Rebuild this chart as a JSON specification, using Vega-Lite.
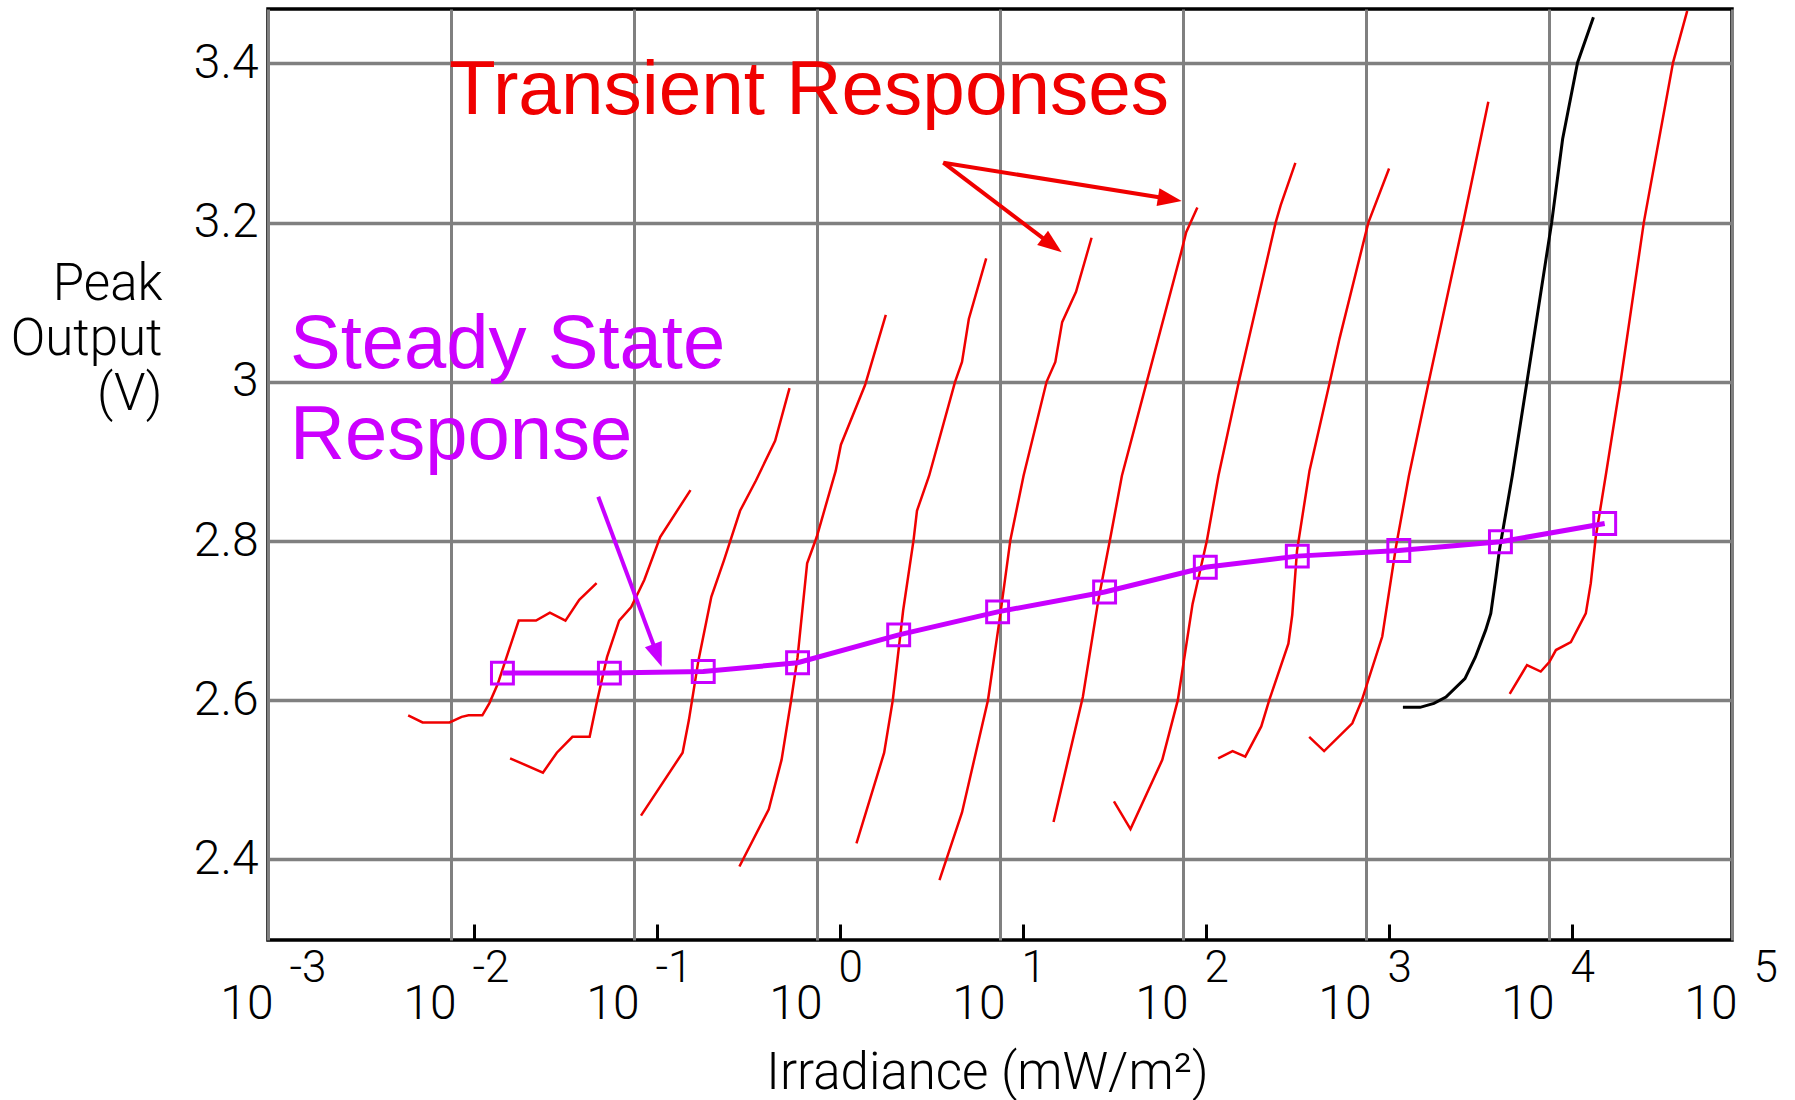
{
  "$schema": "https://vega.github.io/schema/vega-lite/v6.json",
  "width": 1464,
  "height": 931,
  "autosize": {"type": "none"},
  "padding": {"left": 268, "top": 9, "right": 63, "bottom": 160},
  "background": "#ffffff",
  "config": {"view": {"stroke": "#000000", "strokeWidth": 3.5}},
  "datasets": {
    "transient": [
      {"curve": 1, "step": 1, "irradiance": 0.005834, "peak_output": 2.581},
      {"curve": 1, "step": 2, "irradiance": 0.006992, "peak_output": 2.572},
      {"curve": 1, "step": 3, "irradiance": 0.009822, "peak_output": 2.572},
      {"curve": 1, "step": 4, "irradiance": 0.01143, "peak_output": 2.579},
      {"curve": 1, "step": 5, "irradiance": 0.01247, "peak_output": 2.581},
      {"curve": 1, "step": 6, "irradiance": 0.01484, "peak_output": 2.581},
      {"curve": 1, "step": 7, "irradiance": 0.01619, "peak_output": 2.596},
      {"curve": 1, "step": 8, "irradiance": 0.01805, "peak_output": 2.621},
      {"curve": 1, "step": 9, "irradiance": 0.02012, "peak_output": 2.654},
      {"curve": 1, "step": 10, "irradiance": 0.02344, "peak_output": 2.7},
      {"curve": 1, "step": 11, "irradiance": 0.02915, "peak_output": 2.7},
      {"curve": 1, "step": 12, "irradiance": 0.0347, "peak_output": 2.71},
      {"curve": 1, "step": 13, "irradiance": 0.04221, "peak_output": 2.7},
      {"curve": 1, "step": 14, "irradiance": 0.05022, "peak_output": 2.726},
      {"curve": 1, "step": 15, "irradiance": 0.06246, "peak_output": 2.747},
      {"curve": 2, "step": 1, "irradiance": 0.02103, "peak_output": 2.527},
      {"curve": 2, "step": 2, "irradiance": 0.03179, "peak_output": 2.509},
      {"curve": 2, "step": 3, "irradiance": 0.03787, "peak_output": 2.534},
      {"curve": 2, "step": 4, "irradiance": 0.04608, "peak_output": 2.554},
      {"curve": 2, "step": 5, "irradiance": 0.05723, "peak_output": 2.554},
      {"curve": 2, "step": 6, "irradiance": 0.06246, "peak_output": 2.596},
      {"curve": 2, "step": 7, "irradiance": 0.0712, "peak_output": 2.654},
      {"curve": 2, "step": 8, "irradiance": 0.08295, "peak_output": 2.7},
      {"curve": 2, "step": 9, "irradiance": 0.09654, "peak_output": 2.717},
      {"curve": 2, "step": 10, "irradiance": 0.1138, "peak_output": 2.751},
      {"curve": 2, "step": 11, "irradiance": 0.139, "peak_output": 2.805},
      {"curve": 2, "step": 12, "irradiance": 0.2036, "peak_output": 2.864},
      {"curve": 3, "step": 1, "irradiance": 0.1092, "peak_output": 2.455},
      {"curve": 3, "step": 2, "irradiance": 0.1843, "peak_output": 2.534},
      {"curve": 3, "step": 3, "irradiance": 0.1995, "peak_output": 2.575},
      {"curve": 3, "step": 4, "irradiance": 0.225, "peak_output": 2.65},
      {"curve": 3, "step": 5, "irradiance": 0.2646, "peak_output": 2.73},
      {"curve": 3, "step": 6, "irradiance": 0.3105, "peak_output": 2.776},
      {"curve": 3, "step": 7, "irradiance": 0.3799, "peak_output": 2.838},
      {"curve": 3, "step": 8, "irradiance": 0.464, "peak_output": 2.876},
      {"curve": 3, "step": 9, "irradiance": 0.5904, "peak_output": 2.926},
      {"curve": 3, "step": 10, "irradiance": 0.7076, "peak_output": 2.992},
      {"curve": 4, "step": 1, "irradiance": 0.3767, "peak_output": 2.391},
      {"curve": 4, "step": 2, "irradiance": 0.5451, "peak_output": 2.463},
      {"curve": 4, "step": 3, "irradiance": 0.6402, "peak_output": 2.525},
      {"curve": 4, "step": 4, "irradiance": 0.7222, "peak_output": 2.6},
      {"curve": 4, "step": 5, "irradiance": 0.7831, "peak_output": 2.654},
      {"curve": 4, "step": 6, "irradiance": 0.8833, "peak_output": 2.772},
      {"curve": 4, "step": 7, "irradiance": 0.9963, "peak_output": 2.805},
      {"curve": 4, "step": 8, "irradiance": 1.265, "peak_output": 2.888},
      {"curve": 4, "step": 9, "irradiance": 1.351, "peak_output": 2.921},
      {"curve": 4, "step": 10, "irradiance": 1.831, "peak_output": 2.996},
      {"curve": 4, "step": 11, "irradiance": 2.377, "peak_output": 3.084},
      {"curve": 5, "step": 1, "irradiance": 1.643, "peak_output": 2.42},
      {"curve": 5, "step": 2, "irradiance": 2.328, "peak_output": 2.534},
      {"curve": 5, "step": 3, "irradiance": 2.595, "peak_output": 2.6},
      {"curve": 5, "step": 4, "irradiance": 2.957, "peak_output": 2.713},
      {"curve": 5, "step": 5, "irradiance": 3.37, "peak_output": 2.801},
      {"curve": 5, "step": 6, "irradiance": 3.518, "peak_output": 2.838},
      {"curve": 5, "step": 7, "irradiance": 4.1, "peak_output": 2.882},
      {"curve": 5, "step": 8, "irradiance": 5.681, "peak_output": 3.0},
      {"curve": 5, "step": 9, "irradiance": 6.201, "peak_output": 3.025},
      {"curve": 5, "step": 10, "irradiance": 6.755, "peak_output": 3.079},
      {"curve": 5, "step": 11, "irradiance": 8.406, "peak_output": 3.155},
      {"curve": 6, "step": 1, "irradiance": 4.67, "peak_output": 2.374},
      {"curve": 6, "step": 2, "irradiance": 6.201, "peak_output": 2.459},
      {"curve": 6, "step": 3, "irradiance": 8.594, "peak_output": 2.6},
      {"curve": 6, "step": 4, "irradiance": 10.0, "peak_output": 2.705},
      {"curve": 6, "step": 5, "irradiance": 11.39, "peak_output": 2.801},
      {"curve": 6, "step": 6, "irradiance": 13.45, "peak_output": 2.882},
      {"curve": 6, "step": 7, "irradiance": 17.97, "peak_output": 3.0},
      {"curve": 6, "step": 8, "irradiance": 20.06, "peak_output": 3.025},
      {"curve": 6, "step": 9, "irradiance": 21.86, "peak_output": 3.075},
      {"curve": 6, "step": 10, "irradiance": 26.03, "peak_output": 3.113},
      {"curve": 6, "step": 11, "irradiance": 31.65, "peak_output": 3.181},
      {"curve": 7, "step": 1, "irradiance": 19.61, "peak_output": 2.447},
      {"curve": 7, "step": 2, "irradiance": 28.36, "peak_output": 2.604},
      {"curve": 7, "step": 3, "irradiance": 34.48, "peak_output": 2.726},
      {"curve": 7, "step": 4, "irradiance": 40.17, "peak_output": 2.805},
      {"curve": 7, "step": 5, "irradiance": 46.36, "peak_output": 2.882},
      {"curve": 7, "step": 6, "irradiance": 63.39, "peak_output": 3.0},
      {"curve": 7, "step": 7, "irradiance": 97.81, "peak_output": 3.163},
      {"curve": 7, "step": 8, "irradiance": 104.1, "peak_output": 3.188},
      {"curve": 7, "step": 9, "irradiance": 119.8, "peak_output": 3.219},
      {"curve": 8, "step": 1, "irradiance": 41.94, "peak_output": 2.473},
      {"curve": 8, "step": 2, "irradiance": 51.65, "peak_output": 2.438},
      {"curve": 8, "step": 3, "irradiance": 77.05, "peak_output": 2.525},
      {"curve": 8, "step": 4, "irradiance": 93.7, "peak_output": 2.6},
      {"curve": 8, "step": 5, "irradiance": 112.8, "peak_output": 2.721},
      {"curve": 8, "step": 6, "irradiance": 135.2, "peak_output": 2.801},
      {"curve": 8, "step": 7, "irradiance": 156.2, "peak_output": 2.882},
      {"curve": 8, "step": 8, "irradiance": 201.9, "peak_output": 3.0},
      {"curve": 8, "step": 9, "irradiance": 320.8, "peak_output": 3.2},
      {"curve": 8, "step": 10, "irradiance": 342.0, "peak_output": 3.222},
      {"curve": 8, "step": 11, "irradiance": 411.3, "peak_output": 3.275},
      {"curve": 9, "step": 1, "irradiance": 155.6, "peak_output": 2.527},
      {"curve": 9, "step": 2, "irradiance": 186.6, "peak_output": 2.536},
      {"curve": 9, "step": 3, "irradiance": 218.9, "peak_output": 2.529},
      {"curve": 9, "step": 4, "irradiance": 267.7, "peak_output": 2.567},
      {"curve": 9, "step": 5, "irradiance": 296.0, "peak_output": 2.6},
      {"curve": 9, "step": 6, "irradiance": 376.6, "peak_output": 2.671},
      {"curve": 9, "step": 7, "irradiance": 395.3, "peak_output": 2.707},
      {"curve": 9, "step": 8, "irradiance": 419.8, "peak_output": 2.788},
      {"curve": 9, "step": 9, "irradiance": 491.0, "peak_output": 2.888},
      {"curve": 9, "step": 10, "irradiance": 634.7, "peak_output": 3.0},
      {"curve": 9, "step": 11, "irradiance": 716.1, "peak_output": 3.054},
      {"curve": 9, "step": 12, "irradiance": 1030, "peak_output": 3.2},
      {"curve": 9, "step": 13, "irradiance": 1337, "peak_output": 3.268},
      {"curve": 10, "step": 1, "irradiance": 489.2, "peak_output": 2.554},
      {"curve": 10, "step": 2, "irradiance": 590.4, "peak_output": 2.536},
      {"curve": 10, "step": 3, "irradiance": 841.8, "peak_output": 2.571},
      {"curve": 10, "step": 4, "irradiance": 949.5, "peak_output": 2.6},
      {"curve": 10, "step": 5, "irradiance": 1227, "peak_output": 2.68},
      {"curve": 10, "step": 6, "irradiance": 1459, "peak_output": 2.793},
      {"curve": 10, "step": 7, "irradiance": 1716, "peak_output": 2.882},
      {"curve": 10, "step": 8, "irradiance": 2203, "peak_output": 3.0},
      {"curve": 10, "step": 9, "irradiance": 3397, "peak_output": 3.2},
      {"curve": 10, "step": 10, "irradiance": 4661, "peak_output": 3.352},
      {"curve": 11, "step": 1, "irradiance": 6100, "peak_output": 2.608},
      {"curve": 11, "step": 2, "irradiance": 7580, "peak_output": 2.644},
      {"curve": 11, "step": 3, "irradiance": 9012, "peak_output": 2.636},
      {"curve": 11, "step": 4, "irradiance": 10040, "peak_output": 2.648},
      {"curve": 11, "step": 5, "irradiance": 10910, "peak_output": 2.663},
      {"curve": 11, "step": 6, "irradiance": 13170, "peak_output": 2.673},
      {"curve": 11, "step": 7, "irradiance": 15890, "peak_output": 2.709},
      {"curve": 11, "step": 8, "irradiance": 16920, "peak_output": 2.747},
      {"curve": 11, "step": 9, "irradiance": 18010, "peak_output": 2.805},
      {"curve": 11, "step": 10, "irradiance": 20410, "peak_output": 2.882},
      {"curve": 11, "step": 11, "irradiance": 24620, "peak_output": 3.0},
      {"curve": 11, "step": 12, "irradiance": 32960, "peak_output": 3.2},
      {"curve": 11, "step": 13, "irradiance": 47620, "peak_output": 3.401},
      {"curve": 11, "step": 14, "irradiance": 56930, "peak_output": 3.466}
    ],
    "transient_black": [
      {"step": 1, "irradiance": 1591, "peak_output": 2.591},
      {"step": 2, "irradiance": 1975, "peak_output": 2.591},
      {"step": 3, "irradiance": 2350, "peak_output": 2.596},
      {"step": 4, "irradiance": 2734, "peak_output": 2.604},
      {"step": 5, "irradiance": 3473, "peak_output": 2.627},
      {"step": 6, "irradiance": 3957, "peak_output": 2.654},
      {"step": 7, "irradiance": 4506, "peak_output": 2.688},
      {"step": 8, "irradiance": 4808, "peak_output": 2.709},
      {"step": 9, "irradiance": 5130, "peak_output": 2.755},
      {"step": 10, "irradiance": 5355, "peak_output": 2.788},
      {"step": 11, "irradiance": 6301, "peak_output": 2.882},
      {"step": 12, "irradiance": 7580, "peak_output": 3.0},
      {"step": 13, "irradiance": 10340, "peak_output": 3.2},
      {"step": 14, "irradiance": 11870, "peak_output": 3.305},
      {"step": 15, "irradiance": 14320, "peak_output": 3.401},
      {"step": 16, "irradiance": 17490, "peak_output": 3.458}
    ],
    "steady": [
      {"irradiance": 0.0191, "peak_output": 2.634},
      {"irradiance": 0.07337, "peak_output": 2.634},
      {"irradiance": 0.239, "peak_output": 2.636},
      {"irradiance": 0.7831, "peak_output": 2.647},
      {"irradiance": 2.795, "peak_output": 2.682},
      {"irradiance": 9.705, "peak_output": 2.711},
      {"irradiance": 37.29, "peak_output": 2.736},
      {"irradiance": 132.4, "peak_output": 2.767},
      {"irradiance": 421.3, "peak_output": 2.781},
      {"irradiance": 1511, "peak_output": 2.788},
      {"irradiance": 5427, "peak_output": 2.799},
      {"irradiance": 20150, "peak_output": 2.822}
    ],
    "arrows": [
      {"target": "steady", "x_from": 0.0638, "y_from": 2.8556, "x_to": 0.1344, "y_to": 2.6561, "x_tip": 0.1417, "y_tip": 2.6421, "direction": 159.6},
      {"target": "transient", "x_from": 4.9, "y_from": 3.2753, "x_to": 84.81, "y_to": 3.2296, "x_tip": 98.38, "y_tip": 3.2272, "direction": 99.1},
      {"target": "transient", "x_from": 4.9, "y_from": 3.2753, "x_to": 19.26, "y_to": 3.1718, "x_tip": 21.74, "y_tip": 3.1627, "direction": 127.1}
    ]
  },
  "resolve": {"axis": {"x": "independent"}},
  "layer": [
    {
      "data": {"name": "transient"},
      "mark": {"type": "line", "color": "#F00000", "strokeWidth": 2.5, "clip": true},
      "encoding": {
        "x": {
          "field": "irradiance", "type": "quantitative",
          "scale": {"type": "log", "domain": [0.001, 100000], "nice": false},
          "axis": {
            "orient": "bottom",
            "values": [0.001, 0.01, 0.1, 1, 10, 100, 1000, 10000, 100000],
            "labelExpr": "'10'",
            "labelAlign": "right", "labelBaseline": "alphabetic",
            "labelPadding": 78, "labelOffset": 5,
            "labelFont": "Roboto", "labelFontWeight": 300, "labelFontSize": 48, "labelColor": "#000000",
            "labelFlush": false, "labelOverlap": false, "labelBound": false,
            "ticks": false, "domain": false,
            "grid": true, "gridColor": "#808080", "gridWidth": 3, "gridOpacity": 1,
            "title": "Irradiance (mW/m²)",
            "titleFont": "Roboto", "titleFontWeight": 300, "titleFontSize": 51, "titleColor": "#000000",
            "titleAlign": "center", "titleBaseline": "alphabetic",
            "titleX": 719, "titleY": 148
          }
        },
        "y": {
          "field": "peak_output", "type": "quantitative",
          "scale": {"domain": [2.2987, 3.4684], "nice": false, "zero": false},
          "axis": {
            "orient": "left",
            "values": [2.4, 2.6, 2.8, 3, 3.2, 3.4],
            "format": "~g",
            "labelFont": "Roboto", "labelFontWeight": 300, "labelFontSize": 48, "labelColor": "#000000",
            "labelPadding": 10, "labelBaseline": "middle", "labelFlush": false, "labelOverlap": false,
            "ticks": false, "domain": false,
            "grid": true, "gridColor": "#808080", "gridWidth": 3.5, "gridOpacity": 1,
            "title": ["Peak", "Output", "(V)"],
            "titleFont": "Roboto", "titleFontWeight": 300, "titleFontSize": 51, "titleColor": "#000000",
            "titleAngle": 0, "titleAlign": "right", "titleBaseline": "alphabetic",
            "titleLineHeight": 55,
            "titleX": -106, "titleY": 290
          }
        },
        "detail": {"field": "curve", "type": "nominal"},
        "order": {"field": "step", "type": "quantitative"}
      }
    },
    {
      "data": {"name": "transient_black"},
      "mark": {"type": "line", "color": "#000000", "strokeWidth": 3, "clip": true},
      "encoding": {
        "x": {
          "field": "irradiance", "type": "quantitative",
          "scale": {"type": "log", "domain": [0.001, 100000], "nice": false},
          "axis": {
            "orient": "bottom",
            "values": [0.001, 0.01, 0.1, 1, 10, 100, 1000, 10000, 100000],
            "labelExpr": "round(log(datum.value) / LN10) + ''",
            "labelAlign": "left", "labelBaseline": "alphabetic",
            "labelPadding": 41, "labelOffset": 21,
            "labelFont": "Roboto", "labelFontWeight": 300, "labelFontSize": 44, "labelColor": "#000000",
            "labelFlush": false, "labelOverlap": false, "labelBound": false,
            "ticks": false, "domain": false, "grid": false,
            "title": null
          }
        },
        "y": {
          "field": "peak_output", "type": "quantitative",
          "scale": {"domain": [2.2987, 3.4684], "nice": false, "zero": false}
        },
        "order": {"field": "step", "type": "quantitative"}
      }
    },
    {
      "data": {"name": "steady"},
      "mark": {"type": "line", "color": "#C800FF", "strokeWidth": 5, "clip": true},
      "encoding": {
        "x": {
          "field": "irradiance", "type": "quantitative",
          "scale": {"type": "log", "domain": [0.001, 100000], "nice": false},
          "axis": {
            "orient": "bottom",
            "values": [0.01, 0.1, 1, 10, 100, 1000, 10000],
            "labels": false, "domain": false, "grid": false,
            "ticks": true, "tickSize": -16, "tickWidth": 3, "tickColor": "#000000", "tickOffset": 23,
            "title": null
          }
        },
        "y": {
          "field": "peak_output", "type": "quantitative",
          "scale": {"domain": [2.2987, 3.4684], "nice": false, "zero": false}
        }
      }
    },
    {
      "data": {"name": "steady"},
      "mark": {"type": "point", "shape": "square", "filled": false, "color": "#C800FF", "strokeWidth": 3, "size": 480, "opacity": 1},
      "encoding": {
        "x": {"field": "irradiance", "type": "quantitative", "scale": {"type": "log", "domain": [0.001, 100000], "nice": false}, "axis": null},
        "y": {"field": "peak_output", "type": "quantitative", "scale": {"domain": [2.2987, 3.4684], "nice": false, "zero": false}}
      }
    },
    {
      "data": {"name": "arrows"},
      "mark": {"type": "rule", "strokeWidth": 4},
      "encoding": {
        "x": {"field": "x_from", "type": "quantitative", "scale": {"type": "log", "domain": [0.001, 100000], "nice": false}, "axis": null},
        "y": {"field": "y_from", "type": "quantitative", "scale": {"domain": [2.2987, 3.4684], "nice": false, "zero": false}},
        "x2": {"field": "x_to"},
        "y2": {"field": "y_to"},
        "color": {"field": "target", "type": "nominal", "scale": {"domain": ["steady", "transient"], "range": ["#C800FF", "#F00000"]}, "legend": null}
      }
    },
    {
      "data": {"name": "arrows"},
      "mark": {"type": "point", "shape": "M0,0L0.75,2L-0.75,2Z", "filled": true, "size": 576, "opacity": 1, "strokeWidth": 0},
      "encoding": {
        "x": {"field": "x_tip", "type": "quantitative", "scale": {"type": "log", "domain": [0.001, 100000], "nice": false}, "axis": null},
        "y": {"field": "y_tip", "type": "quantitative", "scale": {"domain": [2.2987, 3.4684], "nice": false, "zero": false}},
        "angle": {"field": "direction", "type": "quantitative", "scale": null},
        "color": {"field": "target", "type": "nominal", "scale": {"domain": ["steady", "transient"], "range": ["#C800FF", "#F00000"]}, "legend": null}
      }
    },
    {
      "data": {"values": [{"label": "Transient Responses"}]},
      "mark": {"type": "text", "font": "Liberation Sans", "fontSize": 76.5, "color": "#F00000", "align": "left", "baseline": "alphabetic"},
      "encoding": {
        "x": {"datum": 0.009752, "type": "quantitative", "scale": {"type": "log", "domain": [0.001, 100000], "nice": false}, "axis": null},
        "y": {"datum": 3.3365, "type": "quantitative", "scale": {"domain": [2.2987, 3.4684], "nice": false, "zero": false}},
        "text": {"field": "label", "type": "nominal"}
      }
    },
    {
      "data": {"values": [{"label": ["Steady State", "Response"]}]},
      "mark": {"type": "text", "font": "Liberation Sans", "fontSize": 76, "color": "#CC00FF", "align": "left", "baseline": "alphabetic", "lineHeight": 91},
      "encoding": {
        "x": {"datum": 0.001319, "type": "quantitative", "scale": {"type": "log", "domain": [0.001, 100000], "nice": false}, "axis": null},
        "y": {"datum": 3.017, "type": "quantitative", "scale": {"domain": [2.2987, 3.4684], "nice": false, "zero": false}},
        "text": {"field": "label"}
      }
    }
  ]
}
